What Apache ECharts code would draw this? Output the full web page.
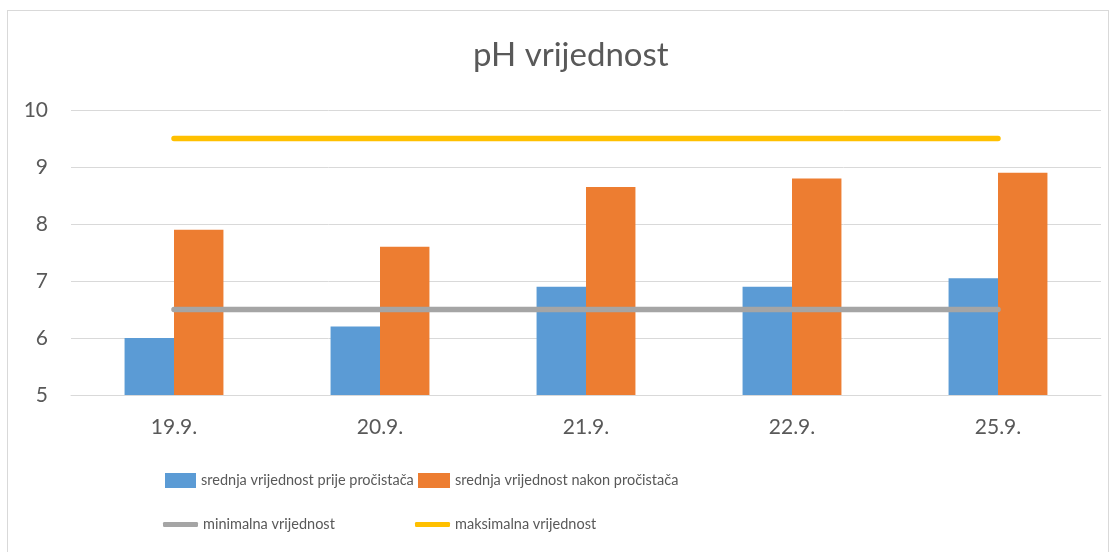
<!DOCTYPE html>
<html><head><meta charset="utf-8">
<script src="https://cdn.jsdelivr.net/npm/echarts@6/dist/echarts.min.js"></script>
<style>
html,body{margin:0;padding:0;background:#fff;}
#frame{position:absolute;left:7px;top:10px;width:1102px;height:560px;border:1px solid #D9D9D9;box-sizing:border-box;}
#c{position:absolute;left:0;top:0;width:1118px;height:552px;}
</style></head>
<body><div id="frame"></div><div id="c"></div>
<script>
const categories = ['19.9.', '20.9.', '21.9.', '22.9.', '25.9.'];
const prije = [6.0, 6.2, 6.9, 6.9, 7.05];
const nakon = [7.9, 7.6, 8.65, 8.8, 8.9];
const minimalna = [6.5, 6.5, 6.5, 6.5, 6.5];
const maksimalna = [9.5, 9.5, 9.5, 9.5, 9.5];
const seriesNames = ['srednja vrijednost prije pročistača', 'srednja vrijednost nakon pročistača', 'minimalna vrijednost', 'maksimalna vrijednost'];
const yTicks = { min: 5, max: 10, interval: 1 };

const FONT = 'Lato, "Noto Sans", sans-serif';
const TXT = '#595959';
const legendText = { color: TXT, fontSize: 14.5, fontFamily: FONT };
const chart = echarts.init(document.getElementById('c'));
chart.setOption({
  animation: false,
  title: { text: 'pH vrijednost', left: 468, top: 34, textStyle: { color: TXT, fontSize: 33, fontWeight: 'normal', fontFamily: FONT } },
  legend: [
    { left: 160, top: 468, itemWidth: 31, itemHeight: 15, itemGap: 0, textStyle: legendText, data: [{ name: seriesNames[0], icon: 'rect' }] },
    { left: 413, top: 468, itemWidth: 32, itemHeight: 15, itemGap: 0, textStyle: legendText, data: [{ name: seriesNames[1], icon: 'rect' }] },
    { left: 158, top: 512, itemWidth: 35, itemHeight: 5, textStyle: legendText, data: [{ name: seriesNames[2], icon: 'roundRect' }] },
    { left: 410, top: 512, itemWidth: 35, itemHeight: 5, textStyle: legendText, data: [{ name: seriesNames[3], icon: 'roundRect' }] }
  ],
  grid: { left: 71, right: 17, top: 110, bottom: 157 },
  xAxis: {
    type: 'category', data: categories,
    axisLine: { lineStyle: { color: '#D9D9D9', width: 1 } },
    axisTick: { show: false },
    axisLabel: { color: TXT, fontSize: 21, fontFamily: FONT, margin: 22 }
  },
  yAxis: {
    type: 'value', min: yTicks.min, max: yTicks.max, interval: yTicks.interval,
    axisLine: { show: false }, axisTick: { show: false },
    axisLabel: { color: TXT, fontSize: 21, fontFamily: FONT, margin: 23 },
    splitLine: { lineStyle: { color: '#D9D9D9', width: 1 } }
  },
  series: [
    { name: seriesNames[0], type: 'bar', data: prije, barGap: '0%', barCategoryGap: '52%', itemStyle: { color: '#5B9BD5' } },
    { name: seriesNames[1], type: 'bar', data: nakon, barGap: '0%', barCategoryGap: '52%', itemStyle: { color: '#ED7D31' } },
    { name: seriesNames[2], type: 'line', data: minimalna, symbol: 'none', lineStyle: { color: '#A5A5A5', width: 5.5, cap: 'round' }, itemStyle: { color: '#A5A5A5' } },
    { name: seriesNames[3], type: 'line', data: maksimalna, symbol: 'none', lineStyle: { color: '#FFC000', width: 5.5, cap: 'round' }, itemStyle: { color: '#FFC000' } }
  ]
});
</script></body></html>
